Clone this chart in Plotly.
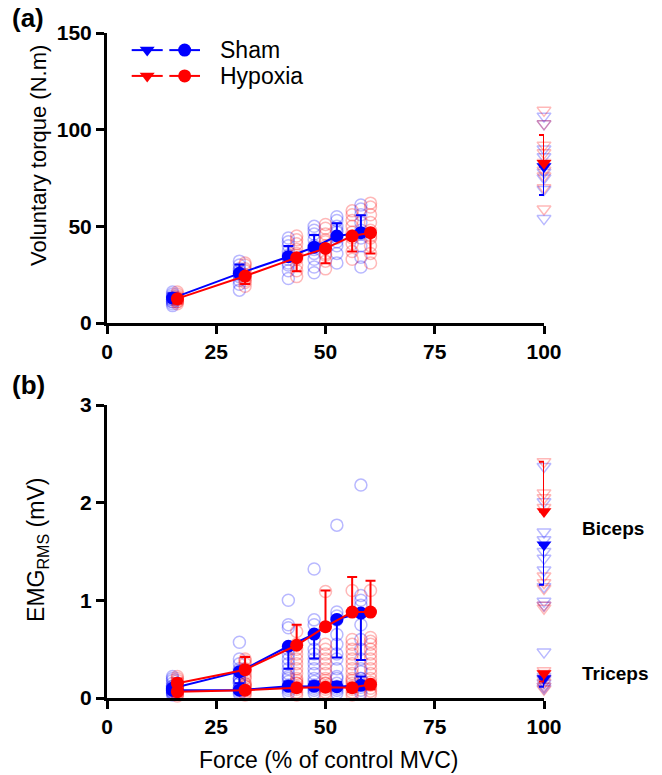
import plotly.graph_objects as go

# ---------------- data ----------------
force_sham = [15.0, 30.3, 41.5, 47.4, 52.6, 58.1]
force_hyp = [16.1, 31.6, 43.4, 50.0, 56.1, 60.3]
mvc_x = [100, 100]

# Panel (a): voluntary torque
torque_sham_mean = [12.9, 25.7, 34.3, 39.2, 45.0, 46.7]
torque_sham_sd = [2.5, 4.5, 5.5, 6.3, 6.6, 9.0]
torque_hyp_mean = [12.6, 24.3, 33.8, 38.6, 45.0, 46.7]
torque_hyp_sd = [2.5, 4.1, 7.0, 7.7, 8.0, 10.7]

torque_sham_ind = [
    [9, 10, 11, 12, 12, 13, 14, 15, 16, 11],
    [17, 20, 22, 24, 26, 27, 28, 30, 32, 25],
    [23, 27, 30, 33, 35, 37, 40, 42, 44, 31],
    [26, 29, 33, 36, 40, 43, 46, 48, 50, 38],
    [31, 36, 40, 44, 47, 50, 53, 55, 42, 48],
    [29, 34, 40, 44, 48, 52, 56, 59, 61, 46],
]
torque_hyp_ind = [
    [10, 11, 12, 13, 13, 14, 15, 16, 12, 11],
    [19, 21, 23, 25, 27, 28, 30, 31, 24, 22],
    [24, 27, 30, 33, 35, 38, 41, 43, 45, 36],
    [28, 32, 36, 40, 43, 46, 49, 51, 35, 42],
    [33, 37, 41, 44, 47, 50, 53, 56, 58, 45],
    [31, 36, 40, 44, 48, 52, 56, 60, 62, 45],
]
mvc_torque_sham_mean = 81.0
mvc_torque_sham_sd = 14.8
mvc_torque_hyp_mean = 82.6
mvc_torque_hyp_sd = 14.7
mvc_torque_sham_ind = [107, 103, 90, 86, 81, 78, 75, 69, 54]
mvc_torque_hyp_ind = [110, 103, 92, 88, 83, 79, 76, 70, 59]

# Panel (b): EMG RMS
bic_sham_mean = [0.10, 0.27, 0.53, 0.655, 0.805, 0.87]
bic_sham_sd = [0.04, 0.12, 0.23, 0.25, 0.39, 0.48]
bic_hyp_mean = [0.15, 0.29, 0.54, 0.73, 0.88, 0.88]
bic_hyp_sd = [0.05, 0.13, 0.21, 0.37, 0.36, 0.32]
tri_sham_mean = [0.08, 0.08, 0.12, 0.12, 0.115, 0.13]
tri_sham_sd = [0.03, 0.03, 0.05, 0.05, 0.05, 0.09]
tri_hyp_mean = [0.065, 0.08, 0.105, 0.11, 0.105, 0.14]
tri_hyp_sd = [0.03, 0.03, 0.04, 0.04, 0.04, 0.05]

bic_sham_ind = [
    [0.05, 0.07, 0.08, 0.10, 0.12, 0.15, 0.18, 0.20, 0.22, 0.09],
    [0.57, 0.40, 0.35, 0.30, 0.25, 0.20, 0.15, 0.10, 0.28, 0.18],
    [1.00, 0.75, 0.72, 0.50, 0.40, 0.35, 0.30, 0.25, 0.20, 0.45],
    [1.32, 0.80, 0.75, 0.60, 0.50, 0.45, 0.40, 0.35, 0.30, 0.20],
    [1.77, 0.88, 0.84, 0.80, 0.65, 0.55, 0.45, 0.40, 0.30, 0.20],
    [2.18, 1.05, 1.00, 0.95, 0.75, 0.60, 0.50, 0.40, 0.30, 0.20],
]
bic_hyp_ind = [
    [0.04, 0.06, 0.08, 0.10, 0.12, 0.15, 0.18, 0.20, 0.22, 0.10],
    [0.12, 0.15, 0.20, 0.25, 0.30, 0.35, 0.40, 0.38, 0.28, 0.22],
    [0.68, 0.55, 0.50, 0.45, 0.40, 0.35, 0.30, 0.25, 0.20, 0.15],
    [1.09, 0.55, 0.50, 0.45, 0.40, 0.35, 0.30, 0.25, 0.20, 0.15],
    [1.10, 0.60, 0.55, 0.50, 0.45, 0.40, 0.35, 0.30, 0.25, 0.20],
    [1.10, 0.62, 0.58, 0.55, 0.50, 0.45, 0.40, 0.35, 0.30, 0.25],
]
tri_sham_ind = [
    [0.03, 0.05, 0.06, 0.08, 0.10, 0.12],
    [0.04, 0.06, 0.08, 0.10, 0.15, 0.20],
    [0.05, 0.08, 0.10, 0.13, 0.17, 0.22],
    [0.05, 0.08, 0.10, 0.13, 0.17, 0.25],
    [0.05, 0.08, 0.10, 0.12, 0.15, 0.22],
    [0.05, 0.08, 0.11, 0.14, 0.20, 0.27],
]
tri_hyp_ind = [
    [0.02, 0.04, 0.06, 0.08, 0.10, 0.12],
    [0.03, 0.05, 0.07, 0.09, 0.12, 0.14],
    [0.03, 0.06, 0.09, 0.12, 0.15, 0.18],
    [0.03, 0.06, 0.09, 0.12, 0.15, 0.18],
    [0.03, 0.06, 0.09, 0.12, 0.15, 0.18],
    [0.04, 0.07, 0.10, 0.13, 0.16, 0.20],
]
mvc_bic_sham_mean = 1.57
mvc_bic_sham_sd = 0.41
mvc_bic_hyp_mean = 1.91
mvc_bic_hyp_sd = 0.51
mvc_tri_sham_mean = 0.20
mvc_tri_sham_sd = 0.085
mvc_tri_hyp_mean = 0.25
mvc_tri_hyp_sd = 0.08
mvc_bic_sham_ind = [2.37, 2.01, 1.70, 1.62, 1.50, 1.43, 1.31, 1.14, 0.99, 0.95]
mvc_bic_hyp_ind = [2.42, 2.10, 2.05, 1.95, 1.25, 1.18, 1.12, 0.95, 0.92]
mvc_tri_sham_ind = [0.47, 0.22, 0.19, 0.15, 0.12, 0.10]
mvc_tri_hyp_ind = [0.28, 0.25, 0.20, 0.16, 0.12, 0.09]

x_ticks = [0, 25, 50, 75, 100]
ya_ticks = [0, 50, 100, 150]
yb_ticks = [0, 1, 2, 3]

# ---------------- style ----------------
BLUE = "#0000FF"
RED = "#FF0000"
BLUE_T = "rgba(0,0,255,0.28)"
RED_T = "rgba(255,0,0,0.28)"
FONT = "Liberation Sans, Arial, sans-serif"

fig = go.Figure()


def add_individuals(xs, groups, color, xa, ya, symbol="circle-open"):
    X, Y = [], []
    for x, vals in zip(xs, groups):
        for v in vals:
            X.append(x)
            Y.append(v)
    fig.add_trace(go.Scatter(
        x=X, y=Y, mode="markers", xaxis=xa, yaxis=ya, showlegend=False,
        cliponaxis=False,
        marker=dict(symbol=symbol, size=12, color=color, line=dict(color=color, width=1.5)),
    ))


def add_mean(xs, ys, sd, color, xa, ya, up=True, symbol="circle", mode="lines+markers"):
    err = dict(type="data", symmetric=False, color=color, thickness=2, width=5,
               array=sd if up else [0] * len(sd),
               arrayminus=[0] * len(sd) if up else sd)
    fig.add_trace(go.Scatter(
        x=xs, y=ys, mode=mode, xaxis=xa, yaxis=ya, showlegend=False, cliponaxis=False,
        line=dict(color=color, width=2),
        marker=dict(symbol=symbol, size=13, color=color),
        error_y=err,
    ))


# Panel (a)
add_individuals(force_sham, torque_sham_ind, BLUE_T, "x", "y")
add_individuals(force_hyp, torque_hyp_ind, RED_T, "x", "y")
add_individuals([mvc_x[0]], [mvc_torque_sham_ind], BLUE_T, "x", "y", "triangle-down-open")
add_individuals([mvc_x[1]], [mvc_torque_hyp_ind], RED_T, "x", "y", "triangle-down-open")
add_mean(force_sham, torque_sham_mean, torque_sham_sd, BLUE, "x", "y", up=True)
add_mean(force_hyp, torque_hyp_mean, torque_hyp_sd, RED, "x", "y", up=False)
add_mean([mvc_x[0]], [mvc_torque_sham_mean], [mvc_torque_sham_sd], BLUE, "x", "y", up=False,
         symbol="triangle-down", mode="markers")
add_mean([mvc_x[1]], [mvc_torque_hyp_mean], [mvc_torque_hyp_sd], RED, "x", "y", up=True,
         symbol="triangle-down", mode="markers")

# Panel (b)
add_individuals(force_sham, bic_sham_ind, BLUE_T, "x2", "y2")
add_individuals(force_hyp, bic_hyp_ind, RED_T, "x2", "y2")
add_individuals(force_sham, tri_sham_ind, BLUE_T, "x2", "y2")
add_individuals(force_hyp, tri_hyp_ind, RED_T, "x2", "y2")
add_individuals([mvc_x[0]], [mvc_bic_sham_ind + mvc_tri_sham_ind], BLUE_T, "x2", "y2", "triangle-down-open")
add_individuals([mvc_x[1]], [mvc_bic_hyp_ind + mvc_tri_hyp_ind], RED_T, "x2", "y2", "triangle-down-open")
add_mean(force_sham, bic_sham_mean, bic_sham_sd, BLUE, "x2", "y2", up=False)
add_mean(force_sham, tri_sham_mean, tri_sham_sd, BLUE, "x2", "y2", up=True)
add_mean(force_hyp, bic_hyp_mean, bic_hyp_sd, RED, "x2", "y2", up=True)
add_mean(force_hyp, tri_hyp_mean, tri_hyp_sd, RED, "x2", "y2", up=False)
add_mean([mvc_x[0]], [mvc_bic_sham_mean], [mvc_bic_sham_sd], BLUE, "x2", "y2", up=False,
         symbol="triangle-down", mode="markers")
add_mean([mvc_x[0]], [mvc_tri_sham_mean], [mvc_tri_sham_sd], BLUE, "x2", "y2", up=False,
         symbol="triangle-down", mode="markers")
add_mean([mvc_x[1]], [mvc_bic_hyp_mean], [mvc_bic_hyp_sd], RED, "x2", "y2", up=True,
         symbol="triangle-down", mode="markers")
add_mean([mvc_x[1]], [mvc_tri_hyp_mean], [mvc_tri_hyp_sd], RED, "x2", "y2", up=False,
         symbol="triangle-down", mode="markers")

# Manual legend on an invisible overlay axis
legend_rows = [("Sham", BLUE, 0.941), ("Hypoxia", RED, 0.852)]
seg1 = [0.0565, 0.1275]
seg2 = [0.1426, 0.2128]
for name, col, yy in legend_rows:
    fig.add_trace(go.Scatter(x=seg1, y=[yy, yy], mode="lines", xaxis="x3", yaxis="y3",
                             line=dict(color=col, width=2), showlegend=False, hoverinfo="skip"))
    fig.add_trace(go.Scatter(x=[sum(seg1) / 2], y=[yy], mode="markers", xaxis="x3", yaxis="y3",
                             marker=dict(symbol="triangle-down", size=13, color=col),
                             showlegend=False, hoverinfo="skip"))
    fig.add_trace(go.Scatter(x=seg2, y=[yy, yy], mode="lines", xaxis="x3", yaxis="y3",
                             line=dict(color=col, width=2), showlegend=False, hoverinfo="skip"))
    fig.add_trace(go.Scatter(x=[sum(seg2) / 2], y=[yy], mode="markers", xaxis="x3", yaxis="y3",
                             marker=dict(symbol="circle", size=13, color=col),
                             showlegend=False, hoverinfo="skip"))

axis_common = dict(
    showline=True, linecolor="black", linewidth=3, ticks="outside", ticklen=8,
    tickwidth=3, tickcolor="black", showgrid=False, zeroline=False,
    tickfont=dict(family=FONT, size=21, color="black", weight="bold"),
)

annotations = [
    dict(text="Sham", x=0.254, y=legend_rows[0][2], xref="x3", yref="y3", xanchor="left",
         yanchor="middle", showarrow=False, font=dict(family=FONT, size=23, color="black")),
    dict(text="Hypoxia", x=0.254, y=legend_rows[1][2], xref="x3", yref="y3", xanchor="left",
         yanchor="middle", showarrow=False, font=dict(family=FONT, size=23, color="black")),
    dict(text="(a)", x=-0.18, y=1.0226, xref="paper", yref="paper", showarrow=False,
         xanchor="center", yanchor="middle", font=dict(family=FONT, size=26, color="black", weight="bold")),
    dict(text="(b)", x=-0.18, y=0.4707, xref="paper", yref="paper", showarrow=False,
         xanchor="center", yanchor="middle", font=dict(family=FONT, size=26, color="black", weight="bold")),
    dict(text="Voluntary torque (N.m)", x=-0.158, y=0.8165, xref="paper", yref="paper",
         textangle=-90, showarrow=False, xanchor="center", yanchor="middle",
         font=dict(family=FONT, size=22, color="black")),
    dict(text="EMG<sub>RMS</sub> (mV)", x=-0.158, y=0.2226, xref="paper", yref="paper",
         textangle=-90, showarrow=False, xanchor="center", yanchor="middle",
         font=dict(family=FONT, size=23, color="black")),
    dict(text="Force (% of control MVC)", x=0.506, y=-0.093, xref="paper", yref="paper",
         showarrow=False, xanchor="center", yanchor="middle",
         font=dict(family=FONT, size=23, color="black")),
    dict(text="Biceps", x=1.082, y=1.74, xref="paper", yref="y2", showarrow=False,
         xanchor="left", yanchor="middle", font=dict(family=FONT, size=19, color="black", weight="bold")),
    dict(text="Triceps", x=1.082, y=0.256, xref="paper", yref="y2", showarrow=False,
         xanchor="left", yanchor="middle", font=dict(family=FONT, size=19, color="black", weight="bold")),
]

fig.update_layout(
    width=662, height=775,
    margin=dict(l=107, r=118, t=33, b=77),
    plot_bgcolor="white", paper_bgcolor="white",
    showlegend=False,
    xaxis=dict(axis_common, domain=[0, 1], range=[0, 100], tickvals=x_ticks, anchor="y"),
    yaxis=dict(axis_common, domain=[0.5639, 1], range=[0, 150], tickvals=ya_ticks, anchor="x"),
    xaxis2=dict(axis_common, domain=[0, 1], range=[0, 100], tickvals=x_ticks, anchor="y2"),
    yaxis2=dict(axis_common, domain=[0, 0.4406], range=[0, 3], tickvals=yb_ticks, anchor="x2"),
    xaxis3=dict(domain=[0, 1], range=[0, 1], visible=False, anchor="y3", overlaying="x"),
    yaxis3=dict(domain=[0.5639, 1], range=[0, 1], visible=False, anchor="x3", overlaying="y"),
    annotations=annotations,
)

fig.write_html("out.html")
